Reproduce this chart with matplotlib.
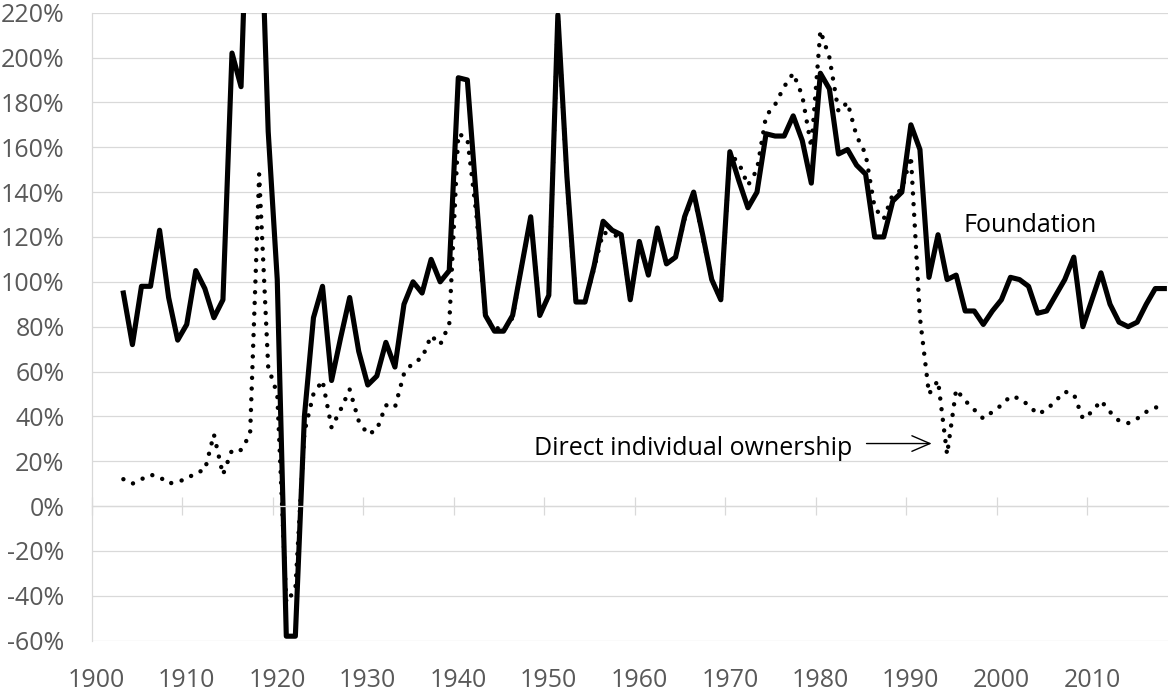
import matplotlib
matplotlib.use("Agg")
import matplotlib.pyplot as plt
import matplotlib.transforms as mtransforms
import numpy as np

plt.rcParams['font.family'] = ['Open Sans', 'DejaVu Sans']

# annual values, 1903-2018 (% )
years = np.arange(1903, 2019)

foundation = [95, 72, 98, 98, 123, 93, 74, 81, 105, 97,
              84, 92, 202, 187, 310, 290, 167, 101, -58, -58,
              40, 84, 98, 56, 75, 93, 69, 54, 58, 73,
              62, 90, 100, 95, 110, 100, 105, 191, 190, 137,
              85, 78, 78, 85, 107, 129, 85, 94, 219, 147,
              91, 91, 107, 127, 123, 121, 92, 118, 103, 124,
              108, 111, 129, 140, 121, 101, 92, 158, 145, 133,
              140, 166, 165, 165, 174, 163, 144, 193, 186, 157,
              159, 152, 148, 120, 120, 136, 140, 170, 159, 102,
              121, 101, 103, 87, 87, 81, 87, 92, 102, 101,
              98, 86, 87, 94, 101, 111, 80, 92, 104, 90,
              82, 80, 82, 90, 97, 97]

direct = [12, 10, 12, 14, 13, 10, 11, 12, 15, 16,
          32, 14, 25, 25, 32, 148, 62, 50, -43, -37,
          33, 50, 56, 35, 43, 52, 38, 32, 34, 45,
          44, 59, 64, 66, 76, 72, 81, 166, 164, 130,
          84, 80, 78, 84, 107, 128, 85, 94, 218, 146,
          91, 91, 106, 122, 121, 120, 92, 117, 103, 123,
          108, 111, 128, 139, 120, 101, 92, 157, 153, 143,
          150, 174, 179, 187, 193, 183, 160, 212, 200, 176,
          180, 165, 157, 133, 128, 139, 141, 156, 84, 50,
          56, 23, 52, 47, 43, 39, 42, 45, 49, 48,
          45, 41, 43, 47, 51, 50, 39, 42, 47, 42,
          38, 37, 39, 42, 44, 44]

decades = list(range(1900, 2011, 10))
pct_ticks = list(range(-60, 221, 20))

grid_col = '#d9d9d9'
label_col = '#595959'

fig = plt.figure(figsize=(11.71, 6.93), dpi=100)
ax = fig.add_axes([0.0783, 0.0755, 0.9191, 0.9062])

# points sit in the middle of each year
x = years + 0.5
ax.plot(x, direct, color='black', lw=3.2, linestyle=(0, (0.01, 2.4)),
        dash_capstyle='round')
ax.plot(x, foundation, color='black', lw=3.7, solid_joinstyle='round')

ax.set_xlim(1900, 2018.9)
ax.set_ylim(-60, 220)

ax.set_yticks(pct_ticks)
ax.set_yticklabels([f'{v}%' for v in pct_ticks])
ax.yaxis.grid(True, color=grid_col, lw=0.9)
ax.set_axisbelow(True)
ax.tick_params(axis='y', length=0, pad=19.5, labelsize=18, labelcolor=label_col)

for s in ['top', 'right']:
    ax.spines[s].set_visible(False)
ax.spines['left'].set_color(grid_col)
ax.spines['left'].set_linewidth(0.9)
ax.spines['bottom'].set_position(('data', 0))
ax.spines['bottom'].set_color(grid_col)
ax.spines['bottom'].set_linewidth(0.9)

ax.set_xticks(decades)
ax.tick_params(axis='x', direction='inout', length=13, width=0.9,
               color=grid_col, labelbottom=False)

# year labels sit below the plot, not on the 0% axis
sec = ax.secondary_xaxis(0.0)
sec.set_xticks(decades)
sec.set_xticklabels([str(d) for d in decades])
sec.tick_params(length=0, pad=20, labelsize=18, labelcolor=label_col)
sec.spines['bottom'].set_visible(False)
shift = mtransforms.ScaledTranslation(0.045, 0, fig.dpi_scale_trans)
for lab in sec.get_xticklabels():
    lab.set_transform(lab.get_transform() + shift)

ax.text(1996.3, 122.3, 'Foundation', fontsize=18, ha='left', va='baseline')
ax.text(1984.0, 22.6, 'Direct individual ownership', fontsize=18,
        ha='right', va='baseline')
ax.annotate('', xy=(1992.8, 27.9), xytext=(1985.6, 27.9),
            arrowprops=dict(arrowstyle='->,head_length=0.65,head_width=0.28',
                            lw=1.0, color='black', shrinkA=0, shrinkB=0,
                            mutation_scale=20))

fig.savefig('out.png', dpi=100)
